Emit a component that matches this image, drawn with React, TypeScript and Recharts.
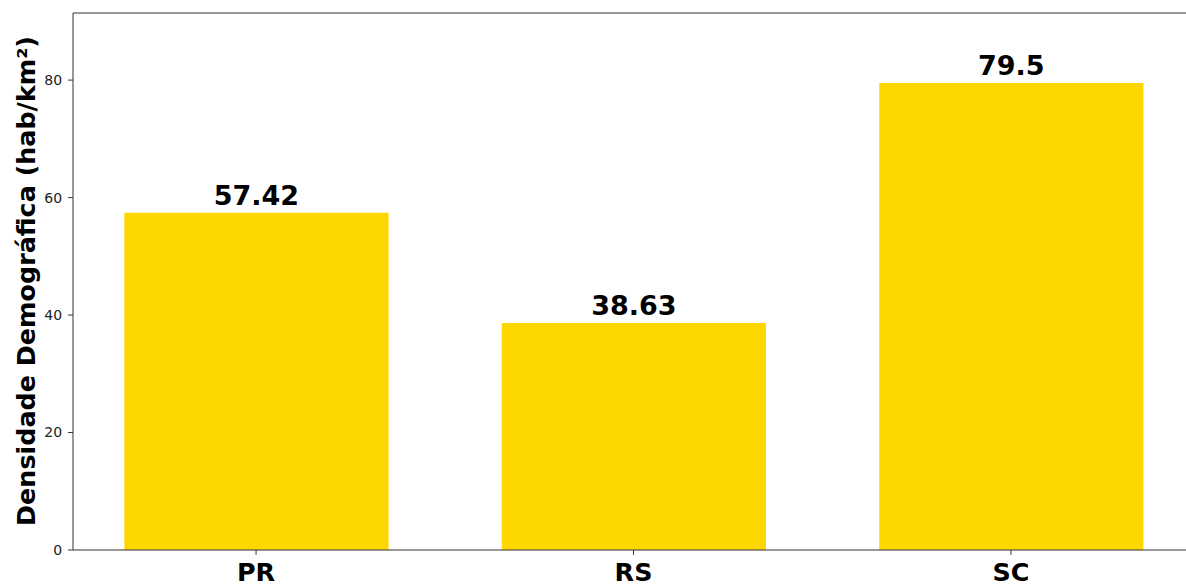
import React from 'react';
import { BarChart, Bar, XAxis, YAxis, LabelList, Label, ReferenceLine } from 'recharts';

const states: string[] = ['PR', 'RS', 'SC'];
const densities: number[] = [57.42, 38.63, 79.5];
const yTicks: number[] = [0, 20, 40, 60, 80];
const yMax = 91.425;
const yLabel = 'Densidade Demográfica (hab/km²)';

const data = states.map((s, i) => ({ x: i, state: s, value: densities[i] }));

const W = 1200;
const H = 584;
const margin = { top: 13, right: 6, bottom: 0, left: 0 };
const yAxisWidth = 73;
const xAxisHeight = 34;
const xDomain: [number, number] = [-0.485, 2.485];
const plotWidth = W - margin.left - margin.right - yAxisWidth;
const pxPerUnit = plotWidth / (xDomain[1] - xDomain[0]);
const barSize = 0.7 * pxPerUnit;
const font = '"DejaVu Sans", sans-serif';
const spine = '#333';

const YLabel = () => (
  <text
    x={35}
    y={281}
    transform="rotate(-90, 35, 281)"
    textAnchor="middle"
    fontFamily={font}
    fontWeight="bold"
    fontSize={25.4}
    fill="#000"
  >
    {yLabel}
  </text>
);

export default function App() {
  return (
    <div style={{ position: 'absolute', left: 0, top: 0, width: W, height: H, background: '#fff' }}>
      <BarChart width={W} height={H} data={data} margin={margin}>
        <XAxis
          type="number"
          dataKey="x"
          domain={xDomain}
          ticks={[0, 1, 2]}
          allowDataOverflow
          tickFormatter={(v: number) => states[v] ?? ''}
          height={xAxisHeight}
          axisLine={{ stroke: spine, strokeWidth: 1 }}
          tickLine={{ stroke: spine, strokeWidth: 1 }}
          tickSize={4.9}
          tickMargin={8}
          tick={{ fontFamily: font, fontWeight: 'bold', fontSize: 25.4, fill: '#000' }}
        />
        <YAxis
          type="number"
          domain={[0, yMax]}
          ticks={yTicks}
          allowDataOverflow
          width={yAxisWidth}
          axisLine={{ stroke: spine, strokeWidth: 1 }}
          tickLine={{ stroke: spine, strokeWidth: 1 }}
          tickSize={4.9}
          tickMargin={6}
          tick={{ fontFamily: font, fontSize: 14, fill: '#222' }}
        >
          <Label content={<YLabel />} />
        </YAxis>
        <ReferenceLine y={yMax} stroke={spine} strokeWidth={1} ifOverflow="visible" />
        <Bar dataKey="value" fill="#FFD700" barSize={barSize} isAnimationActive={false}>
          <LabelList
            dataKey="value"
            position="top"
            offset={8}
            style={{ fontFamily: font, fontWeight: 'bold', fontSize: 27, fill: '#000' }}
          />
        </Bar>
      </BarChart>
    </div>
  );
}
